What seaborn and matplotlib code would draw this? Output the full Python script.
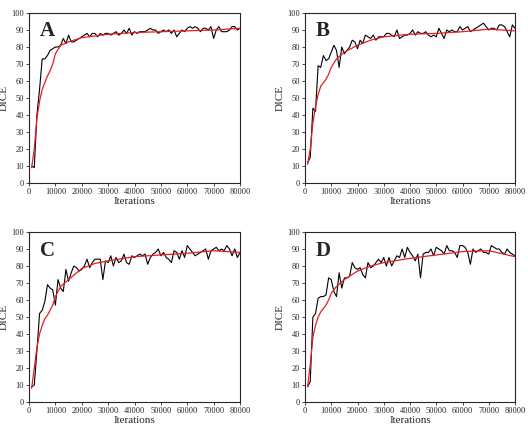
import numpy as np
import pandas as pd
import seaborn as sns
import matplotlib
matplotlib.use("Agg")
import matplotlib.pyplot as plt

sns.set_style("ticks")
plt.rcParams['font.family'] = ['Liberation Serif', 'DejaVu Serif']

iters = list(range(1000, 81000, 1000))
a_raw = [10,9,40,55,73,73,75,78,79,80,80,81,85,82,87,83,83,84,85,86,87,88,86,88,88,86,88,87,88,88,
         87,88,89,87,88,90,88,91,87,89,88,89,89,89,90,91,90,90,88,89,90,89,90,88,90,86,88,90,89,91,
         92,91,92,91,89,91,91,90,92,85,90,92,89,89,89,90,92,92,90,91]
b_raw = [12,15,44,42,69,68,75,72,73,77,81,78,68,80,76,78,80,84,83,79,84,82,87,86,85,87,84,86,86,86,
         88,88,87,86,90,85,86,87,87,88,90,87,89,88,88,89,87,86,87,86,91,88,85,90,89,90,89,89,92,90,
         91,92,89,90,91,92,93,94,92,90,91,91,90,93,93,92,89,86,93,91]
c_raw = [9,10,30,52,54,59,69,67,66,57,72,67,65,78,71,76,80,79,77,78,80,84,79,82,84,84,84,72,83,82,
         86,80,85,82,83,87,82,81,86,85,86,87,86,87,81,85,87,88,90,86,88,85,84,82,89,88,84,89,85,92,
         90,88,86,87,88,89,90,84,89,90,91,89,90,89,92,90,86,90,85,88]
d_raw = [9,12,50,52,61,62,62,63,73,72,65,62,76,67,73,73,74,82,79,78,79,75,73,82,79,80,82,84,82,85,
         80,85,80,83,86,85,90,85,91,88,86,83,87,73,87,88,88,90,86,91,90,89,87,92,89,89,88,85,92,92,
         91,88,81,90,88,89,90,88,88,87,92,91,90,90,88,87,90,88,87,86]

fit_iters = [1000,2000,3000,4000,5000,6000,7000,8000,9000,10000,12000,15000,20000,25000,30000,40000,50000,60000,70000,80000]
a_fit = [9,20,38,48,55,59,63,66,70,76,81,83,85.5,86.5,87.5,88.5,89,89.5,90,91]
b_fit = [11,20,35,45,52,57,59,61,64,68,73,77,81,84,86,87.5,88,89,90.5,89.5]
c_fit = [8,20,32,40,45,49,51,54,57,62,68,72,78.5,81.5,83,85.5,86.5,87.5,89,88]
d_fit = [9,22,38,45,50,53,55,57,60,64,68,72,77,80,82,84.5,86.5,88.5,89,85.5]

labels = ["A", "B", "C", "D"]
raws = [a_raw, b_raw, c_raw, d_raw]
fits = [a_fit, b_fit, c_fit, d_fit]
for r in raws:
    assert len(r) == len(iters), len(r)

fig = plt.figure(figsize=(5.28, 4.37), dpi=100)
W, H = 528, 437
boxes = [(29, 13, 240, 183), (305, 13, 515, 183), (29, 232, 240, 402), (305, 232, 515, 402)]
for lab, raw, fit, (l, t, r, b) in zip(labels, raws, fits, boxes):
    ax = fig.add_axes([l / W, 1 - b / H, (r - l) / W, (b - t) / H])
    sns.lineplot(x=iters, y=raw, ax=ax, color="black", lw=0.8)
    sns.lineplot(x=fit_iters, y=fit, ax=ax, color="#e02020", lw=0.9)
    ax.set_xlim(0, 80000)
    ax.set_ylim(0, 100)
    ax.set_xticks(range(0, 80001, 10000))
    ax.set_yticks(range(0, 101, 10))
    ax.tick_params(labelsize=6, length=2, width=0.6, pad=1.5)
    for s in ax.spines.values():
        s.set_linewidth(0.8)
    ax.set_xlabel("Iterations", fontsize=8, labelpad=1)
    ax.set_ylabel("DICE", fontsize=8, labelpad=2)
    ax.text(0.05, 0.95, lab, transform=ax.transAxes, fontsize=15, fontweight="bold", va="top", ha="left")

fig.savefig("out.png", dpi=100)
